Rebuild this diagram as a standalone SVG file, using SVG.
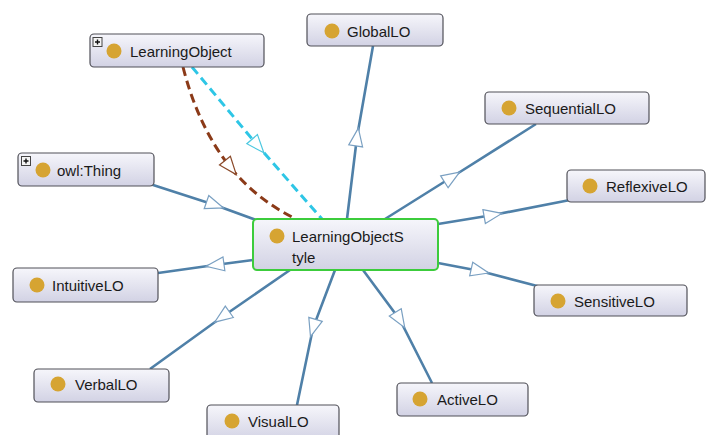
<svg xmlns="http://www.w3.org/2000/svg" width="710" height="435" viewBox="0 0 710 435">
<style>
.node rect.box{fill:url(#g);stroke:#505058;stroke-width:1.2}
.node circle{fill:#d6a432}
.node text{font-family:"Liberation Sans",Arial,sans-serif;font-size:15px;fill:#1a1a1a}
.e{fill:none;stroke:#4f80a8;stroke-width:2.6;marker-mid:url(#ab)}
.plus rect{fill:#f4f4f4;stroke:#444;stroke-width:1}
.plus path{stroke:#111;stroke-width:1.4}
</style>
<defs>
<linearGradient id="g" x1="0" y1="0" x2="0" y2="1">
<stop offset="0" stop-color="#f6f6fb"/>
<stop offset="1" stop-color="#d2d2e4"/>
</linearGradient>
<marker id="ab" markerUnits="userSpaceOnUse" markerWidth="22" markerHeight="18" refX="10" refY="8" orient="auto" viewBox="0 0 22 18" overflow="visible">
<path d="M1,1 L19,8 L1,15 Z" fill="#fff" stroke="#7aa0c2" stroke-width="1.2"/>
</marker>
<marker id="ac" markerUnits="userSpaceOnUse" markerWidth="22" markerHeight="18" refX="10" refY="8" orient="auto" viewBox="0 0 22 18" overflow="visible">
<path d="M1,1 L19,8 L1,15 Z" fill="#fff" stroke="#4cc8e0" stroke-width="1.2"/>
</marker>
<marker id="ar" markerUnits="userSpaceOnUse" markerWidth="22" markerHeight="18" refX="10" refY="8" orient="auto" viewBox="0 0 22 18" overflow="visible">
<path d="M1,1 L19,8 L1,15 Z" fill="#fff" stroke="#8b4a2a" stroke-width="1.2"/>
</marker>
</defs>
<rect width="710" height="435" fill="#fff"/>
<g id="connectors">
<path class="e" d="M150,184 L215,205 L256,220"/>
<path class="e" d="M253,260 L215,265 L158,273"/>
<path class="e" d="M290,270 L222,317 L150,369"/>
<path class="e" d="M335,270 L313,328 L297,405"/>
<path class="e" d="M363,270 L400,320 L432,383"/>
<path class="e" d="M438,263 L480,271 L541,287"/>
<path class="e" d="M438,224 L493,215 L570,200"/>
<path class="e" d="M385,219 L452,177 L536,124"/>
<path class="e" d="M347,219 L357,137 L373,46"/>
<path d="M192,67 L258,146 L322,219" fill="none" stroke="#2ec6e6" stroke-width="3" stroke-dasharray="9,5" marker-mid="url(#ac)"/>
<path d="M183,67 Q198.4,127.5 230.6,167.6 Q257.2,200.1 296,219" fill="none" stroke="#8b3a18" stroke-width="3" stroke-dasharray="9,5" marker-mid="url(#ar)"/>
</g>
<g id="LearningObject" class="node">
<rect class="box" x="90" y="34" width="174" height="33" rx="4"/>
<g class="plus"><rect x="93" y="37.5" width="9" height="9"/><path d="M95,42 H100 M97.5,39.5 V44.5"/></g>
<circle cx="114" cy="51" r="7.5"/>
<text x="130" y="56.5">LearningObject</text>
</g>
<g id="owlThing" class="node">
<rect class="box" x="18" y="153" width="136" height="33" rx="4"/>
<g class="plus"><rect x="21.5" y="156.5" width="9" height="9"/><path d="M23.5,161 H28.5 M26,158.5 V163.5"/></g>
<circle cx="43" cy="170" r="7.5"/>
<text x="57" y="175.5">owl:Thing</text>
</g>
<g id="GlobalLO" class="node">
<rect class="box" x="307" y="14" width="136" height="32" rx="4"/>
<circle cx="332" cy="31" r="7.5"/>
<text x="347" y="36.5">GlobalLO</text>
</g>
<g id="SequentialLO" class="node">
<rect class="box" x="485" y="92" width="164" height="32" rx="4"/>
<circle cx="509" cy="108" r="7.5"/>
<text x="525" y="113.5">SequentialLO</text>
</g>
<g id="ReflexiveLO" class="node">
<rect class="box" x="567" y="170" width="138" height="32" rx="4"/>
<circle cx="590" cy="186" r="7.5"/>
<text x="606" y="191.5">ReflexiveLO</text>
</g>
<g id="SensitiveLO" class="node">
<rect class="box" x="534" y="285" width="153" height="31" rx="4"/>
<circle cx="558" cy="301" r="7.5"/>
<text x="574" y="306.5">SensitiveLO</text>
</g>
<g id="ActiveLO" class="node">
<rect class="box" x="397" y="383" width="131" height="33" rx="4"/>
<circle cx="420" cy="399" r="7.5"/>
<text x="437" y="404.5">ActiveLO</text>
</g>
<g id="VisualLO" class="node">
<rect class="box" x="207" y="405" width="132" height="36" rx="4"/>
<circle cx="232" cy="421" r="7.5"/>
<text x="248" y="426.5">VisualLO</text>
</g>
<g id="VerbalLO" class="node">
<rect class="box" x="34" y="369" width="135" height="33" rx="4"/>
<circle cx="58" cy="384" r="7.5"/>
<text x="75" y="389.5">VerbalLO</text>
</g>
<g id="IntuitiveLO" class="node">
<rect class="box" x="13" y="268" width="145" height="34" rx="4"/>
<circle cx="37" cy="285" r="7.5"/>
<text x="52" y="290.5">IntuitiveLO</text>
</g>
<g id="LearningObjectStyle" class="node">
<rect class="box" x="253" y="219" width="185" height="51" rx="4" style="stroke:#3ccc3c;stroke-width:2"/>
<circle cx="277" cy="236" r="7.5"/>
<text x="292" y="242">LearningObjectS</text>
<text x="292" y="263">tyle</text>
</g>
</svg>
